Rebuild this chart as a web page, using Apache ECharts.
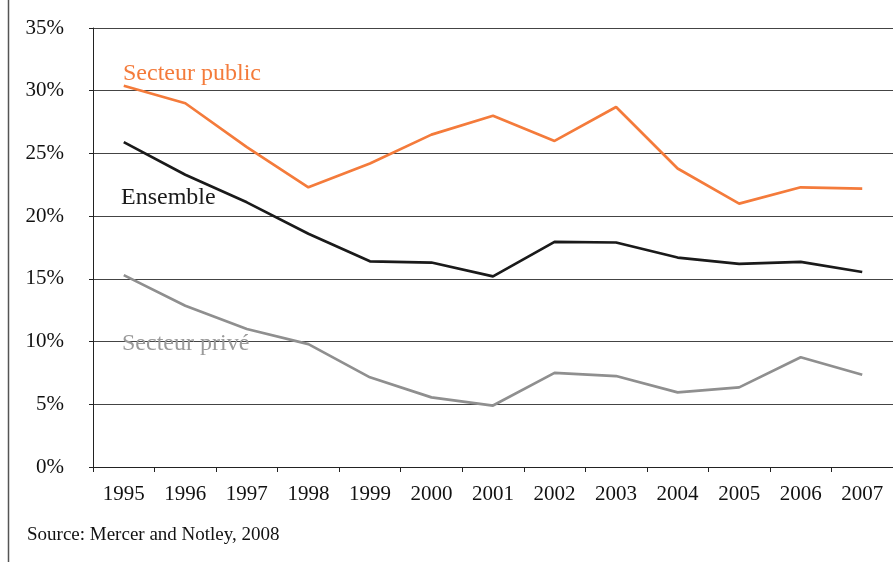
<!DOCTYPE html>
<html>
<head>
<meta charset="utf-8">
<title>Secteur public / privé</title>
<script src="https://cdn.jsdelivr.net/npm/echarts@6/dist/echarts.min.js"></script>
<style>
  html, body { margin: 0; padding: 0; background: #fff; }
  #chartdata { width: 893px; height: 562px; }
</style>
</head>
<body>
<div id="chartdata"></div>
<script>
// données (en %)
var years = ['1995', '1996', '1997', '1998', '1999', '2000', '2001', '2002', '2003', '2004', '2005', '2006', '2007']
var secteurPublic = [30.4, 29.0, 25.5, 22.3, 24.2, 26.5, 28.0, 26.0, 28.7, 23.8, 21.0, 22.3, 22.2]
var ensemble = [25.9, 23.3, 21.1, 18.6, 16.4, 16.3, 15.2, 17.95, 17.9, 16.7, 16.2, 16.35, 15.55]
var secteurPrive = [15.3, 12.85, 11.0, 9.8, 7.15, 5.55, 4.9, 7.5, 7.25, 5.95, 6.35, 8.75, 7.35]
var yTicks = { min: 0, max: 35, interval: 5 }

var font = '"Liberation Serif", "DejaVu Serif", serif'

var chart = echarts.init(document.getElementById('chartdata'))

function serie (name, data, color) {
  return {
    name: name,
    type: 'line',
    data: data,
    symbol: 'none',
    smooth: false,
    lineStyle: { color: color, width: 2.7 },
    itemStyle: { color: color },
    z: 3
  }
}

var option = {
  animation: false,
  backgroundColor: '#fff',
  grid: {
    left: 93,
    top: 28,
    width: 806,
    height: 439
  },
  xAxis: {
    type: 'category',
    data: years,
    boundaryGap: true,
    axisLine: { lineStyle: { color: '#222', width: 1 } },
    axisTick: { show: true, length: 5, inside: false, lineStyle: { color: '#222' } },
    axisLabel: { color: '#111', fontFamily: font, fontSize: 21, margin: 17 },
    splitLine: { show: false }
  },
  yAxis: {
    type: 'value',
    min: yTicks.min,
    max: yTicks.max,
    interval: yTicks.interval,
    axisLine: { show: true, lineStyle: { color: '#222', width: 1 } },
    axisTick: { show: true, length: 4, lineStyle: { color: '#222' } },
    axisLabel: {
      color: '#111',
      fontFamily: font,
      fontSize: 21,
      margin: 29,
      formatter: '{value}%'
    },
    splitLine: { show: true, lineStyle: { color: '#444', width: 1 } }
  },
  series: [
    serie('Secteur public', secteurPublic, '#f47b3b'),
    serie('Ensemble', ensemble, '#1a1a1a'),
    serie('Secteur privé', secteurPrive, '#8f8f8f')
  ],
  graphic: [
    {
      type: 'line',
      shape: { x1: 8.5, y1: 0, x2: 8.5, y2: 562 },
      style: { stroke: '#555', lineWidth: 1.5 }
    },
    {
      type: 'text',
      left: 123,
      top: 62,
      z: 10,
      style: { text: 'Secteur public', fill: '#f47b3b', font: '24px ' + font }
    },
    {
      type: 'text',
      left: 121,
      top: 186,
      z: 10,
      style: { text: 'Ensemble', fill: '#1a1a1a', font: '24px ' + font }
    },
    {
      type: 'text',
      left: 122,
      top: 332,
      z: 10,
      style: { text: 'Secteur privé', fill: '#9a9a9a', font: '24px ' + font }
    },
    {
      type: 'text',
      left: 27,
      top: 526,
      z: 10,
      style: { text: 'Source: Mercer and Notley, 2008', fill: '#111', font: '19px ' + font }
    }
  ]
}

chart.setOption(option)
</script>
</body>
</html>
